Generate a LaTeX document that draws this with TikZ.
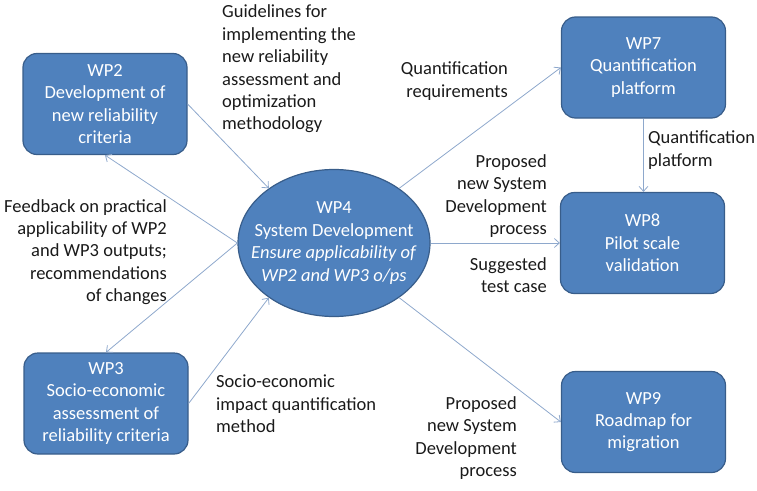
\documentclass[tikz,border=0pt]{standalone}
\usepackage{fontspec}
\setmainfont{Carlito}
\usetikzlibrary{arrows.meta,shapes.geometric}
\definecolor{wpfill}{HTML}{4F81BD}
\definecolor{wpline}{HTML}{385D8A}
\definecolor{flow}{HTML}{8EA8CC}
\definecolor{notetext}{HTML}{1A1A1A}
\tikzset{
        wptext/.style = {font=\fontsize{18.5}{22.4}\selectfont},
        wpbox/.style  = {wptext, draw=wpline, line width=1.2pt, fill=wpfill,
                         rounded corners=14pt, text=white, align=center,
                         minimum width=164pt, minimum height=101pt, inner sep=0pt},
        wpoval/.style = {wptext, ellipse, draw=wpline, line width=1.2pt, fill=wpfill,
                         text=white, align=center, minimum width=192pt,
                         minimum height=147pt, inner xsep=-20pt, inner ysep=0pt},
        note/.style   = {wptext, text=notetext, inner sep=0pt},
        feed/.style   = {draw=flow, line width=0.8pt,
                         -{Straight Barb[length=5pt,width=9pt]}}
}

\begin{document}
\begin{tikzpicture}[x=1pt, y=-1pt]
        \useasboundingbox (0,0) rectangle (757,490);

        \node [wpbox]  (wp2) at (105,104)   {WP2\\Development of\\new reliability\\criteria};
        \node [wpbox]  (wp3) at (106,403.5) {WP3\\Socio-economic\\assessment of\\reliability criteria};
        \node [wpoval] (wp4) at (334,243)   {WP4\\System Development\\\textit{Ensure applicability of}\\\textit{WP2 and WP3 o/ps}};
        \node [wpbox]  (wp7) at (643.5,67.5) {WP7\\Quantification\\platform};
        \node [wpbox]  (wp8) at (642.5,243) {WP8\\Pilot scale\\validation};
        \node [wpbox]  (wp9) at (643.5,422) {WP9\\Roadmap for\\migration};

        \path
                (wp2.east)   edge [feed] (wp4.140)
                (wp4.west)   edge [feed] (wp2.south)
                             edge [feed] (wp3.north)
                (wp3.east)   edge [feed] (wp4.220)
                (wp4.40)     edge [feed] (wp7.west)
                (wp7.south)  edge [feed] (wp7.south |- wp8.north)
                (wp4.east)   edge [feed] (wp8.west)
                (wp4.-40)    edge [feed] (wp9.west);

        \node [note, anchor=west, align=left]  (guide)    at (222,69)  {Guidelines for\\implementing the\\new reliability\\assessment and\\optimization\\methodology};
        \node [note, anchor=east, align=right] (feedback) at (167,252) {Feedback on practical\\applicability of WP2\\and WP3 outputs;\\recommendations\\of changes};
        \node [note, anchor=west, align=left]  (socio)    at (216,404) {Socio-economic\\impact quantification\\method};
        \node [note, anchor=east, align=right] (quantreq) at (508,81)  {Quantification\\requirements};
        \node [note, anchor=west, align=left]  (quantpl)  at (648,150) {Quantification\\platform};
        \node [note, anchor=east, align=right] (propA)    at (547,196) {Proposed\\new System\\Development\\process};
        \node [note, anchor=east, align=right] (testcase) at (547,275) {Suggested\\test case};
        \node [note, anchor=east, align=right] (propB)    at (517,438) {Proposed\\new System\\Development\\process};
\end{tikzpicture}
\end{document}
